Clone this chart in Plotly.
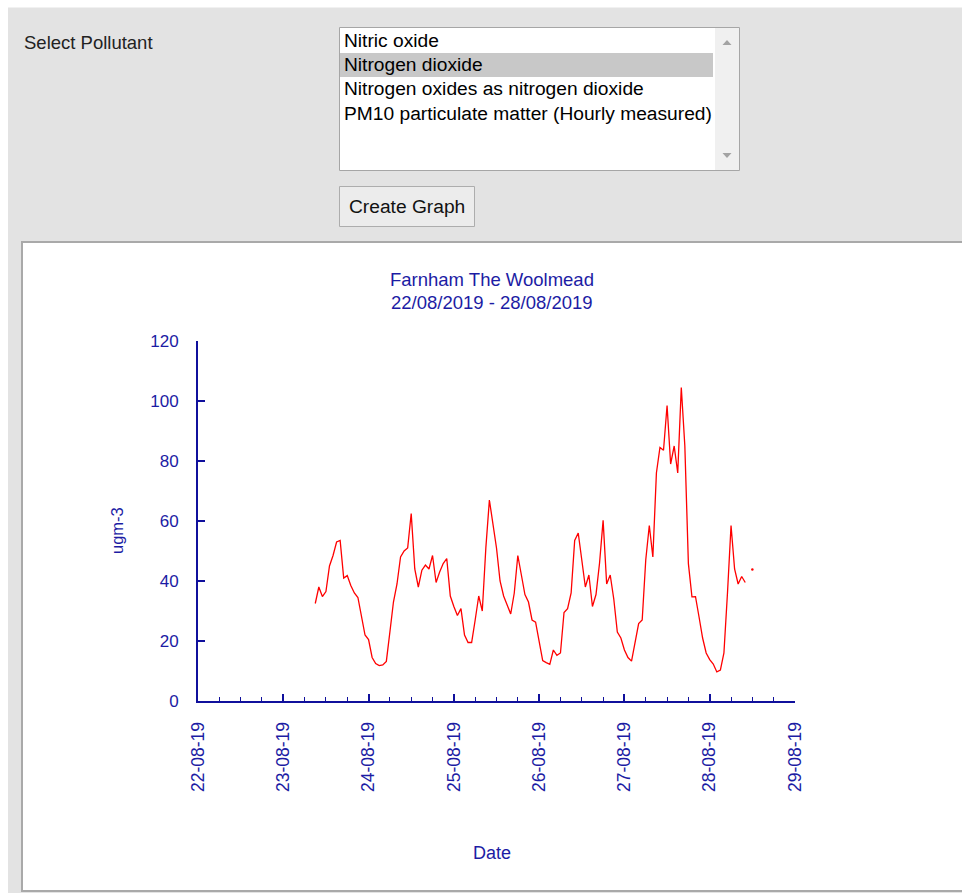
import pandas as pd
import plotly.graph_objects as go

# ---------------- data ----------------
site_name = "Farnham The Woolmead"
period_label = "22/08/2019 - 28/08/2019"
pollutant_options = [
    "Nitric oxide",
    "Nitrogen dioxide",
    "Nitrogen oxides as nitrogen dioxide",
    "PM10 particulate matter (Hourly measured)",
]
selected_option = "Nitrogen dioxide"
x_axis_title = "Date"
y_axis_title = "ugm-3"
axis_start = "2019-08-22 00:00"
axis_end = "2019-08-29 00:00"
first_reading = "2019-08-23 09:00"

# hourly NO2 readings (ugm-3) from 23-08-19 09:00; None = missing hour
no2_hourly = [
    32.5, 38, 34.8, 36.5, 45, 48.5, 53, 53.5, 41, 41.8, 38.5, 36, 34.5, 28, 22,
    20.5, 14.5, 12.5, 11.8, 12, 13.2, 23, 33, 39, 48, 50, 51, 62.5, 44,
    38, 43.6, 45.3, 44, 48.5, 39.5, 43, 45.8, 47.5, 35, 31.5, 28.5, 30.8, 22,
    19.5, 19.5, 27, 35, 30, 51, 67, 58.5, 51, 40, 35, 32, 29, 36, 48.5, 42,
    35.5, 33, 27, 26.3, 20, 13.5, 12.8, 12.2, 17, 15.2, 16, 29.5, 30.8, 36,
    53.5, 56, 47, 38, 42, 31.5, 35.5, 46, 60.2, 39, 42, 34, 23, 21, 17, 14.5,
    13.3, 20, 25.8, 27, 47, 58.5, 48, 76, 84.5, 83.6, 98.5, 79, 85, 76, 104.5,
    85, 45.8, 34.7, 34.8, 28, 21, 16, 13.8, 12.3, 9.7, 10.3, 16, 36, 58.5, 44,
    39, 41.5, 39.5, None, 43.8,
]
y_ticks = [0, 20, 40, 60, 80, 100, 120]

times = pd.date_range(first_reading, periods=len(no2_hourly), freq="h")

# isolated readings (no neighbour on either side) need a marker to be visible
iso_x, iso_y = [], []
for i, v in enumerate(no2_hourly):
    if v is None:
        continue
    prev_ok = i > 0 and no2_hourly[i - 1] is not None
    next_ok = i < len(no2_hourly) - 1 and no2_hourly[i + 1] is not None
    if not prev_ok and not next_ok:
        iso_x.append(times[i])
        iso_y.append(v)

# ---------------- layout helpers (page pixel -> paper) ----------------
W, H = 962, 893
PL, PR, PT, PB = 198, 795, 341, 701   # plot area in page pixels


def fx(px):
    return (px - PL) / (PR - PL)


def fy(py):
    return (PB - py) / (PB - PT)


AX = "#10109c"
TX = "#1c1ca4"
FONT = "Liberation Sans, Arial, sans-serif"

fig = go.Figure()
fig.add_trace(go.Scatter(x=times, y=no2_hourly, mode="lines",
                         line=dict(color="#ff0000", width=1.3),
                         connectgaps=False, showlegend=False, hoverinfo="x+y"))
fig.add_trace(go.Scatter(x=iso_x, y=iso_y, mode="markers",
                         marker=dict(color="#ff0000", size=2.5),
                         showlegend=False))

shapes = []


def rect(x0, y0, x1, y1, fill, line=None, lw=0, layer="below"):
    shapes.append(dict(type="rect", xref="paper", yref="paper",
                       x0=fx(x0), x1=fx(x1), y0=fy(y1), y1=fy(y0),
                       fillcolor=fill, line=dict(color=line or fill, width=lw),
                       layer=layer))


# white page margin strips
rect(-5, -5, W + 5, 7.5, "#ffffff")
rect(-5, -5, 8, H + 5, "#ffffff")
# chart panel
rect(22, 242, W + 30, 891, "#ffffff", "#a9a9a9", 2)
# listbox
rect(339.5, 27.5, 739.5, 170.5, "#ffffff", "#a6a6a6", 1)
rect(715, 28, 739, 170, "#f0f0f0")
rect(340, 53, 713, 77, "#c8c8c8")
# button
rect(339.5, 186.5, 474.5, 226.5, "#ececec", "#adadad", 1)


def tri(points, color):
    p = "M " + " L ".join(f"{fx(a)},{fy(b)}" for a, b in points) + " Z"
    shapes.append(dict(type="path", xref="paper", yref="paper", path=p,
                       fillcolor=color, line=dict(color=color, width=0),
                       layer="below"))


tri([(722.5, 45), (731.5, 45), (727, 40)], "#a3a3a3")
tri([(722.5, 153), (731.5, 153), (727, 158)], "#a3a3a3")

annotations = []


def label(text, x, y, size, color, xanchor="left", angle=0):
    annotations.append(dict(text=text, x=fx(x), y=fy(y), xref="paper", yref="paper",
                            xanchor=xanchor, yanchor="middle", showarrow=False,
                            textangle=angle,
                            font=dict(family=FONT, size=size, color=color)))


label("Select Pollutant", 22, 42, 18.5, "#222222")
row_y = [40, 64, 88, 113]
for txt, yy in zip(pollutant_options, row_y):
    label(txt, 342, yy, 19.2, "#000000")
label("Create Graph", 407, 206.5, 19.2, "#111111", xanchor="center")

label(site_name, 492, 279, 18.5, TX, xanchor="center")
label(period_label, 492, 302, 18.5, TX, xanchor="center")
label(x_axis_title, 492, 853, 18, TX, xanchor="center")
label(y_axis_title, 117, 531, 16.5, TX, xanchor="center", angle=-90)

fig.update_layout(
    width=W, height=H,
    margin=dict(l=PL, r=W - PR, t=PT, b=H - PB, pad=0),
    paper_bgcolor="#e3e3e3",
    plot_bgcolor="#ffffff",
    shapes=shapes,
    annotations=annotations,
    showlegend=False,
    font=dict(family=FONT, color=TX),
)
fig.update_xaxes(
    type="date", range=[axis_start, axis_end],
    tick0=axis_start, dtick=86400000, tickformat="%d-%m-%y", tickangle=-90,
    ticks="inside", ticklen=7, tickwidth=1.5, tickcolor=AX,
    minor=dict(dtick=21600000, tick0=axis_start, ticks="inside", ticklen=4,
               tickwidth=1.2, tickcolor=AX, showgrid=False),
    showline=True, linecolor=AX, linewidth=2, showgrid=False, zeroline=False,
    tickfont=dict(family=FONT, size=17.5, color=TX), ticklabelstandoff=12,
)
fig.update_yaxes(
    range=[0, 120], tickvals=y_ticks, ticks="inside", ticklen=7, tickwidth=1.5,
    tickcolor=AX, showline=True, linecolor=AX, linewidth=2, showgrid=False,
    zeroline=False, tickfont=dict(family=FONT, size=17, color=TX),
    ticklabelstandoff=14,
)

# the figure fills the whole window: drop the page's default body margin
fig.write_html(
    "out.html",
    config={"displayModeBar": False},
    post_script="document.body.style.margin='0';"
                "document.documentElement.style.overflow='hidden';",
)
